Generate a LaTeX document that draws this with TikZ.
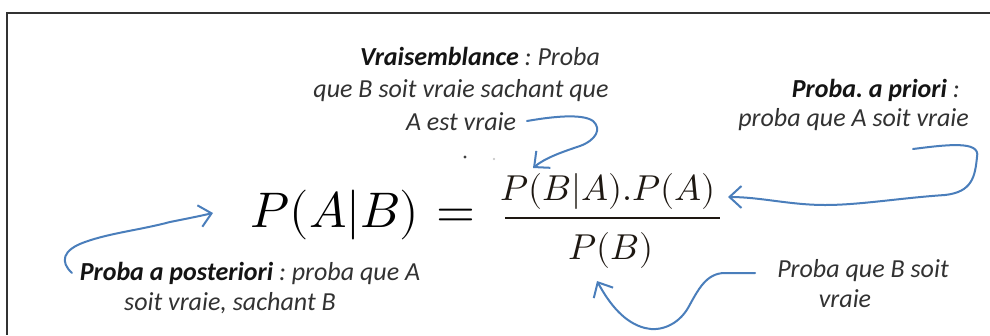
\documentclass[tikz,border=0pt]{standalone}
\usepackage{fontspec}
\usepackage{unicode-math}
\setmainfont{Carlito}
\setmathfont{Latin Modern Math}
\usetikzlibrary{arrows.meta}
\definecolor{arrowblue}{RGB}{74,126,187}
\definecolor{txtgray}{RGB}{50,50,50}
\definecolor{boldtxt}{RGB}{20,20,20}
\definecolor{framegray}{RGB}{50,50,50}
\definecolor{mathdark}{RGB}{30,24,18}
\newcommand{\bfi}[1]{{\bfseries\color{boldtxt}#1}}
\frenchspacing
\begin{document}
\begin{tikzpicture}[x=1pt,y=-1pt,
  lbl/.style={font=\fontsize{26}{31}\selectfont\itshape, text=txtgray, inner sep=0pt},
  mth/.style={inner sep=0pt, text=mathdark},
  callout/.style={draw=arrowblue, line width=2pt, line cap=round, line join=round,
    -{Straight Barb[length=12pt,width=22pt,line width=2pt]}},
]
\useasboundingbox (0,0) rectangle (990,335);
\fill[white] (0,0) rectangle (990,335);
% frame
\draw[framegray, line width=2pt] (990,13) -- (7,13) -- (7,335);

% formula
\node[mth, anchor=base, text=black] (lhs) at (335,227.5) {\fontsize{50}{60}\selectfont$P(A|B)$};
\node[mth, anchor=base, text=black] (eq) at (456,227.5) {\fontsize{50}{60}\selectfont$=$};
\node[mth] (num) at (608,191) {\fontsize{36}{43}\selectfont$P(B|A).P(A)$};
\node[mth] (den) at (611,250) {\fontsize{36}{43}\selectfont$P(B)$};
\draw[mathdark, line width=2.6pt] (505,218) -- (720,218);

% labels
\node[lbl, anchor=base] (v1) at (480,65) {\bfi{Vraisemblance} : Proba};
\node[lbl, anchor=base] (v2) at (461,97) {que B soit vraie sachant que};
\node[lbl, anchor=base] (v3) at (461,130) {A est vraie};

\node[lbl, anchor=base east] (p1) at (960,97) {\bfi{Proba. a priori} :};
\node[lbl, anchor=base east] (p2) at (969,126) {proba que A soit vraie};

\node[lbl, anchor=base] (q1) at (250,280) {\bfi{Proba a posteriori} : proba que A};
\node[lbl, anchor=base] (q2) at (230,310) {soit vraie, sachant B};

\node[lbl, anchor=base] (b1) at (863,277) {Proba que B soit};
\node[lbl, anchor=base] (b2) at (845,307) {vraie};

% stray dots
\fill[black!75] (465,157) circle (1.6pt);
\fill[black!25] (494,159) circle (1.1pt);

% arrow end points
\coordinate (vs) at (527,121);
\coordinate (vt) at (533,168);
\coordinate (ps) at (913,149);
\coordinate (pt) at (728,197);
\coordinate (qs) at (72,273);
\coordinate (qt) at (213,213);
\coordinate (bs) at (755,273);
\coordinate (bt) at (597,281);

% callouts
\draw[callout] (vs) .. controls (550,117) and (582,113) .. (593,121)
  .. controls (602,129) and (596,140) .. (580,146)
  .. controls (562,152) and (545,158) .. (vt);
\draw[callout] (ps) .. controls (945,145) and (981,140) .. (977,157)
  .. controls (975,177) and (972,192) .. (945,195)
  .. controls (900,198) and (860,205) .. (825,205)
  .. controls (790,205) and (760,197) .. (pt);
\draw[callout] (qs) .. controls (60,262) and (62,250) .. (85,242)
  .. controls (110,233) and (140,230) .. (170,222)
  .. controls (190,218) and (200,216) .. (qt);
\draw[callout] (bs) -- (725,273) .. controls (706,273) and (698,290) .. (688,308)
  .. controls (678,325) and (660,332) .. (645,328)
  .. controls (625,323) and (610,305) .. (bt);
\end{tikzpicture}
\end{document}
